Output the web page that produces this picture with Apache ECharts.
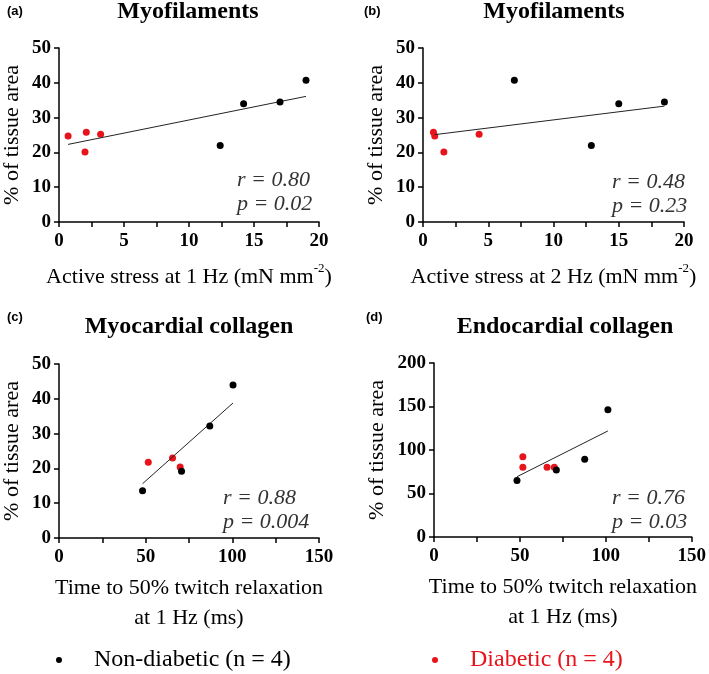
<!DOCTYPE html>
<html>
<head>
<meta charset="utf-8">
<title></title>
<script src="https://cdn.jsdelivr.net/npm/echarts@6/dist/echarts.min.js"></script>
</head>
<body style="margin:0">
<div id="chart" style="width:709px;height:674px;"></div>
<script>
// (a) active stress 1 Hz vs myofilaments
var aDiab = [[0.7, 24.7], [2.0, 20.1], [2.1, 25.8], [3.2, 25.2]];
var aNon = [[12.4, 22.0], [14.2, 34.0], [17.0, 34.5], [19.0, 40.7]];
var aFit = [[0.7, 22.3], [19.0, 36.1]];
// (b) active stress 2 Hz vs myofilaments
var bDiab = [[0.8, 25.8], [0.9, 24.7], [1.6, 20.1], [4.3, 25.2]];
var bNon = [[7.0, 40.7], [12.9, 22.0], [15.0, 34.0], [18.5, 34.5]];
var bFit = [[0.9, 25.1], [18.5, 33.3]];
// (c) relaxation vs myocardial collagen
var cDiab = [[51.5, 21.8], [65.5, 23.0], [69.9, 20.4]];
var cNon = [[48.2, 13.6], [70.7, 19.2], [87.0, 32.2], [100.4, 44.0]];
var cFit = [[48.2, 15.6], [100.4, 38.8]];
// (d) relaxation vs endocardial collagen
var dDiab = [[51.7, 92.1], [51.7, 80.2], [65.8, 80.2], [70.0, 80.2]];
var dNon = [[48.3, 64.8], [71.2, 77.1], [87.7, 89.4], [101.2, 146.3]];
var dFit = [[48.3, 69.3], [101.2, 121.9]];

var titles = ['Myofilaments', 'Myofilaments', 'Myocardial collagen', 'Endocardial collagen'];
var panelTags = ['(a)', '(b)', '(c)', '(d)'];
var stats = [['r = 0.80', 'p = 0.02'], ['r = 0.48', 'p = 0.23'], ['r = 0.88', 'p = 0.004'], ['r = 0.76', 'p = 0.03']];
var xNames = [
  'Active stress at 1 Hz (mN mm{sup|-2})',
  'Active stress at 2 Hz (mN mm{sup|-2})',
  'Time to 50% twitch relaxation\nat 1 Hz (ms)',
  'Time to 50% twitch relaxation\nat 1 Hz (ms)'
];
var xMax = [20, 20, 150, 150];
var xStep = [5, 5, 50, 50];
var yMax = [50, 50, 50, 200];
var yStep = [10, 10, 10, 50];
var nonName = 'Non-diabetic (n = 4)';
var diabName = 'Diabetic (n = 4)';
var red = '#e8141b';
var serif = 'Liberation Serif';

var chart = echarts.init(document.getElementById('chart'));

var grids = [
  {left: 59, top: 48, width: 260, height: 174},
  {left: 423, top: 48, width: 261, height: 174},
  {left: 59, top: 364, width: 260, height: 174},
  {left: 434, top: 363, width: 260, height: 174}
];
var titleX = [188, 554, 189, 565];
var titleY = [0, 0, 315, 315];
var tagPos = [[7, 5], [364, 5], [7, 311], [366, 311]];
var statPos = [[237, 180], [612, 182], [223, 498], [612, 498]];

var xAxes = [], yAxes = [], series = [], titleList = [], graphics = [];
var diabSets = [aDiab, bDiab, cDiab, dDiab];
var nonSets = [aNon, bNon, cNon, dNon];
var fitSets = [aFit, bFit, cFit, dFit];

for (var i = 0; i < 4; i++) {
  var twoLine = i >= 2;
  xAxes.push({
    gridIndex: i, type: 'value', min: 0, max: xMax[i], interval: xStep[i],
    name: xNames[i], nameLocation: 'middle', nameGap: twoLine ? 35 : 40,
    nameTextStyle: {
      fontFamily: serif, fontSize: 22, color: '#000', lineHeight: 30, verticalAlign: 'top',
      rich: {sup: {fontFamily: serif, fontSize: 13, verticalAlign: 'top', lineHeight: 14, padding: [0, 0, 10, 0]}}
    },
    axisLine: {lineStyle: {color: '#000', width: 1.5}},
    axisTick: {length: 5, lineStyle: {color: '#000', width: 1.5}},
    minorTick: {show: true, splitNumber: 2, length: 5, lineStyle: {color: '#000', width: 1.5}},
    axisLabel: {fontFamily: serif, fontWeight: 'bold', fontSize: 19, color: '#000', margin: 10},
    splitLine: {show: false}
  });
  yAxes.push({
    gridIndex: i, type: 'value', min: 0, max: yMax[i], interval: yStep[i],
    name: '% of tissue area', nameLocation: 'middle', nameGap: i === 3 ? 46 : 36,
    nameTextStyle: {fontFamily: serif, fontSize: 22, color: '#000'},
    axisLine: {show: true, lineStyle: {color: '#000', width: 1.5}},
    axisTick: {show: true, length: 5, lineStyle: {color: '#000', width: 1.5}},
    axisLabel: {fontFamily: serif, fontWeight: 'bold', fontSize: 19, color: '#000', margin: 8},
    splitLine: {show: false}
  });
  series.push({
    name: diabName, type: 'scatter', xAxisIndex: i, yAxisIndex: i,
    symbolSize: 7, itemStyle: {color: red, opacity: 1}, data: diabSets[i]
  });
  series.push({
    name: nonName, type: 'scatter', xAxisIndex: i, yAxisIndex: i,
    symbolSize: 7, itemStyle: {color: '#000', opacity: 1}, data: nonSets[i], z: 3
  });
  series.push({
    type: 'line', xAxisIndex: i, yAxisIndex: i, showSymbol: false, silent: true,
    lineStyle: {color: '#222', width: 1}, data: fitSets[i]
  });
  titleList.push({
    text: titles[i], left: titleX[i], top: titleY[i], textAlign: 'center', padding: 0,
    textStyle: {fontFamily: serif, fontWeight: 'bold', fontSize: 24, color: '#000'}
  });
  graphics.push({
    type: 'text', left: tagPos[i][0], top: tagPos[i][1],
    style: {text: panelTags[i], font: 'bold 13px "Liberation Sans"', fill: '#000'}
  });
  graphics.push({
    type: 'text', left: statPos[i][0], top: statPos[i][1] - 12,
    style: {text: stats[i][0] + '\n' + stats[i][1], font: 'italic 22px "Liberation Serif"', fill: '#333', lineHeight: 24}
  });
}

var option = {
  animation: false,
  title: titleList,
  grid: grids,
  xAxis: xAxes,
  yAxis: yAxes,
  legend: [
    {
      data: [nonName], left: 56, top: 648, padding: 0, icon: 'circle', itemWidth: 6, itemHeight: 6,
      textStyle: {fontFamily: serif, fontSize: 24, color: '#000', padding: [0, 0, 0, 27]}
    },
    {
      data: [diabName], left: 432, top: 648, padding: 0, icon: 'circle', itemWidth: 6, itemHeight: 6,
      textStyle: {fontFamily: serif, fontSize: 24, color: red, padding: [0, 0, 0, 27]}
    }
  ],
  graphic: graphics,
  series: series
};
chart.setOption(option);
</script>
</body>
</html>
